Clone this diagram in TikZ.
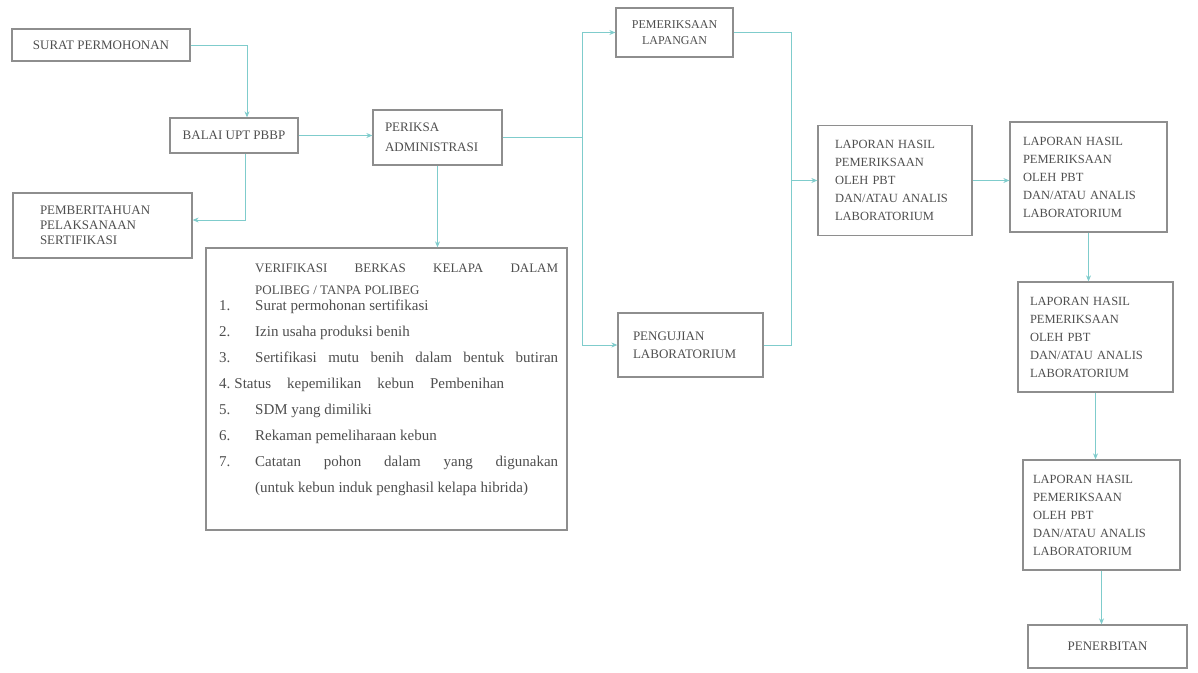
\documentclass[tikz,border=0pt]{standalone}
\usepackage{fontspec}
\setmainfont{Liberation Serif}
\usetikzlibrary{arrows.meta}
\definecolor{flowteal}{HTML}{7FCCCC}
\definecolor{boxgray}{HTML}{8E8E8E}
\definecolor{inkgray}{HTML}{4E4E4E}
\tikzstyle{every box} = [draw=boxgray, line width=1.3pt, text=inkgray,
font=\fontsize{13}{15}\selectfont, inner sep=0pt]
\tikzstyle{every report} = [every box, align=left,
font=\fontsize{12.5}{18}\selectfont, minimum height=110pt]
\tikzstyle{link} = [draw=flowteal, line width=0.9pt]
\tikzstyle{arrow link} = [link, -{Stealth[length=6pt,width=5pt]}]

\begin{document}
\begin{tikzpicture}[x=1pt,y=-1pt]
  \useasboundingbox (0,0) rectangle (1198,672);
  \node[every box, minimum width=178pt, minimum height=32pt] (surat) at (101,45) {SURAT PERMOHONAN};
  \node[every box, minimum width=128pt, minimum height=35pt] (balai) at (234,135.5) {BALAI UPT PBBP};
  \node[every box, align=left, text width=105pt, inner xsep=12pt, minimum width=129pt, minimum height=55pt,
    font=\fontsize{13}{20}\selectfont] (periksa) at (437.5,137.5) {PERIKSA\\ADMINISTRASI};
  \node[every box, align=left, text width=125pt, inner xsep=27pt, minimum width=179pt, minimum height=65pt]
    (pember) at (102.5,225.5) {PEMBERITAHUAN\\PELAKSANAAN\\SERTIFIKASI};
  \node[every box, minimum width=361pt, minimum height=282pt] (verif) at (386.5,389) {};
  \node[anchor=north west, inner sep=0pt, text=inkgray, font=\fontsize{15}{26}\selectfont] (veriflist) at (219,254) {%
    \begin{tabular}{@{}p{36pt}@{}p{303pt}@{}}
      & {\fontsize{13}{15}\selectfont\makebox[303pt][s]{VERIFIKASI BERKAS KELAPA DALAM}}\\[-4pt]
      & {\fontsize{13}{15}\selectfont POLIBEG / TANPA POLIBEG}\\[-10pt]
      1. & Surat permohonan sertifikasi\\
      2. & Izin usaha produksi benih\\
      3. & \makebox[303pt][s]{Sertifikasi mutu benih dalam bentuk butiran}\\
      \multicolumn{2}{@{}l@{}}{\makebox[285pt][s]{4.\hspace{4pt}Status kepemilikan kebun Pembenihan}}\\
      5. & SDM yang dimiliki\\
      6. & Rekaman pemeliharaan kebun\\
      7. & \makebox[303pt][s]{Catatan pohon dalam yang digunakan}\\
      & (untuk kebun induk penghasil kelapa hibrida)
    \end{tabular}};
  \node[every box, minimum width=117pt, minimum height=49pt, align=center,
    font=\fontsize{12}{16}\selectfont] (pemlap) at (674.5,32.5) {PEMERIKSAAN\\LAPANGAN};
  \node[every box, align=left, text width=115pt, inner xsep=15pt, minimum width=145pt, minimum height=64pt,
    font=\fontsize{13}{18}\selectfont] (uji) at (690.5,345) {PENGUJIAN\\LABORATORIUM};
  \node[every report, text width=120pt, inner xsep=17pt, minimum width=154pt] (lap1) at (895,180.5)
    {LAPORAN HASIL\\PEMERIKSAAN\\OLEH PBT\\DAN/ATAU ANALIS\\LABORATORIUM};
  \node[every report, text width=131pt, inner xsep=13pt, minimum width=157pt] (lap2) at (1088.5,177)
    {LAPORAN HASIL\\PEMERIKSAAN\\OLEH PBT\\DAN/ATAU ANALIS\\LABORATORIUM};
  \node[every report, text width=131pt, inner xsep=12pt, minimum width=155pt] (lap3) at (1095.5,337)
    {LAPORAN HASIL\\PEMERIKSAAN\\OLEH PBT\\DAN/ATAU ANALIS\\LABORATORIUM};
  \node[every report, text width=137pt, inner xsep=10pt, minimum width=157pt] (lap4) at (1101.5,515)
    {LAPORAN HASIL\\PEMERIKSAAN\\OLEH PBT\\DAN/ATAU ANALIS\\LABORATORIUM};
  \node[every box, minimum width=159pt, minimum height=43pt] (terbit) at (1107.5,646.5) {PENERBITAN};

  \coordinate (split) at ([xshift=80pt]periksa.east);
  \coordinate (join) at ([xshift=-26pt]lap1.west);
  \draw[arrow link] (surat.east) -| ([xshift=13pt]balai.north);
  \draw[arrow link] (balai.east) -- (balai.east -| periksa.west);
  \draw[arrow link] ([xshift=11pt]balai.south) |- ([yshift=5.5pt]pember.east);
  \draw[arrow link] (periksa.south) -- (periksa.south |- verif.north);
  \draw[link] (periksa.east) -- (split);
  \draw[arrow link] (split) |- (pemlap.west);
  \draw[arrow link] (split) |- (uji.west);
  \draw[link] (pemlap.east) -| (join);
  \draw[link] (uji.east) -| (join);
  \draw[arrow link] (join) -- (lap1.west);
  \draw[arrow link] (lap1.east) -- (lap1.east -| lap2.west);
  \draw[arrow link] (lap2.south) -- (lap2.south |- lap3.north);
  \draw[arrow link] (lap3.south) -- (lap3.south |- lap4.north);
  \draw[arrow link] (lap4.south) -- (lap4.south |- terbit.north);
\end{tikzpicture}
\end{document}
